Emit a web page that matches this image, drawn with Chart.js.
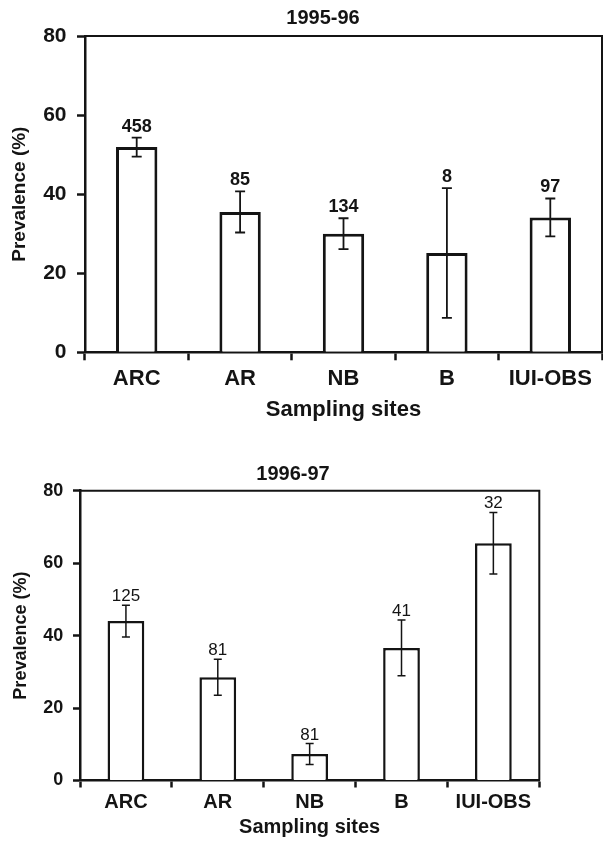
<!DOCTYPE html>
<html>
<head>
<meta charset="utf-8">
<script src="https://cdn.jsdelivr.net/npm/chart.js@4.4.0/dist/chart.umd.min.js"></script>
<style>
  body { margin: 0; background: #fff; }
  canvas { position: absolute; left: 0; }
  #top { top: 0; }
  #bottom { top: 440px; }
</style>
</head>
<body>
<canvas id="top" width="603" height="440"></canvas>
<canvas id="bottom" width="603" height="402"></canvas>
<script>
// sampling sites and prevalence (%) with error half-widths and sample sizes
const sites = ['ARC', 'AR', 'NB', 'B', 'IUI-OBS'];

const prev9596 = [51.9, 35.5, 30.0, 25.1, 34.1];
const err9596 = [2.4, 5.2, 3.9, 16.4, 4.8];
const n9596 = [458, 85, 134, 8, 97];

const prev9697 = [44.0, 28.5, 7.3, 36.6, 65.5];
const err9697 = [4.4, 5.0, 2.9, 7.7, 8.5];
const n9697 = [125, 81, 81, 41, 32];

const yTicks = [0, 20, 40, 60, 80];

const ink = '#141414';
const family = "'Liberation Sans', Arial, sans-serif";
Chart.defaults.font.family = family;
Chart.defaults.color = ink;

function makePanel(id, title, values, errors, counts, s) {
  // error bars, counts, frame and the panel title
  const panel = {
    id: 'panel',
    afterDatasetsDraw(chart) {
      const ctx = chart.ctx;
      const y = chart.scales.y;
      const a = chart.chartArea;
      const meta = chart.getDatasetMeta(0);
      ctx.save();
      ctx.strokeStyle = ink;
      ctx.fillStyle = ink;
      ctx.lineWidth = s.errWidth;
      meta.data.forEach(function (bar, i) {
        const t = y.getPixelForValue(values[i] + errors[i]);
        const b = y.getPixelForValue(values[i] - errors[i]);
        ctx.beginPath();
        ctx.moveTo(bar.x, t); ctx.lineTo(bar.x, b);
        ctx.moveTo(bar.x - s.cap, t); ctx.lineTo(bar.x + s.cap, t);
        ctx.moveTo(bar.x - s.cap, b); ctx.lineTo(bar.x + s.cap, b);
        ctx.stroke();
        ctx.font = s.countFont;
        ctx.textAlign = 'center';
        ctx.textBaseline = 'alphabetic';
        ctx.fillText(String(counts[i]), bar.x, t - s.gap);
      });
      ctx.lineWidth = s.frameWidth;
      ctx.beginPath();
      ctx.moveTo(a.left, a.top);
      ctx.lineTo(a.right, a.top);
      ctx.lineTo(a.right, a.bottom);
      ctx.stroke();
      ctx.font = s.titleFont;
      ctx.textAlign = 'center';
      ctx.textBaseline = 'middle';
      ctx.fillText(title, s.titleX, s.titleY);
      ctx.restore();
    }
  };

  new Chart(document.getElementById(id), {
    type: 'bar',
    data: {
      labels: sites,
      datasets: [{
        data: values,
        backgroundColor: '#fff',
        borderColor: ink,
        borderWidth: s.barBorder,
        categoryPercentage: 1,
        barPercentage: 0.4
      }]
    },
    options: {
      responsive: false,
      animation: false,
      events: [],
      layout: { padding: { top: s.padTop, right: s.padRight, left: 0, bottom: 0 } },
      plugins: { legend: { display: false }, tooltip: { enabled: false }, title: { display: false } },
      scales: {
        x: {
          afterFit: function (scale) { scale.height = s.xHeight; },
          grid: { drawOnChartArea: false, tickColor: ink, tickLength: s.tickLen, tickWidth: 2.5 },
          border: { color: ink, width: 2.5 },
          ticks: { color: ink, font: { size: s.xFont, weight: 'bold' }, padding: s.xPad, maxRotation: 0 },
          title: { display: true, text: 'Sampling sites', color: ink,
                   font: { size: s.xTitleFont, weight: 'bold' }, padding: { top: 0, bottom: s.xTitlePad } }
        },
        y: {
          min: 0,
          max: 80,
          afterFit: function (scale) { scale.width = s.yWidth; },
          afterBuildTicks: function (scale) { scale.ticks = yTicks.map(function (v) { return { value: v }; }); },
          grid: { drawOnChartArea: false, tickColor: ink, tickLength: s.tickLen, tickWidth: 2.5 },
          border: { color: ink, width: 2.5 },
          ticks: { color: ink, font: { size: s.yFont, weight: 'bold' }, padding: s.yPad },
          title: { display: true, text: 'Prevalence (%)', color: ink,
                   font: { size: s.yTitleFont, weight: 'bold' }, padding: { top: s.yTitlePad, bottom: 0 } }
        }
      }
    },
    plugins: [panel]
  });
}

makePanel('top', '1995-96', prev9596, err9596, n9596, {
  padTop: 36, padRight: 1, yWidth: 85, xHeight: 87.7, tickLen: 8,
  yFont: 21, yPad: 10.5, yTitleFont: 19, yTitlePad: 8.6,
  xFont: 22, xPad: 5.5, xTitleFont: 22, xTitlePad: 16.8,
  barBorder: 3, errWidth: 1.8, cap: 5, gap: 6, frameWidth: 2,
  countFont: 'bold 18px ' + family, titleFont: 'bold 20px ' + family, titleX: 323, titleY: 18
});

makePanel('bottom', '1996-97', prev9697, err9697, n9697, {
  padTop: 50.7, padRight: 63.7, yWidth: 80, xHeight: 61.5, tickLen: 7,
  yFont: 18, yPad: 9.7, yTitleFont: 18, yTitlePad: 10.2,
  xFont: 20, xPad: 3, xTitleFont: 20, xTitlePad: 3,
  barBorder: 2.5, errWidth: 1.5, cap: 4, gap: 4, frameWidth: 2,
  countFont: '17px ' + family, titleFont: 'bold 20px ' + family, titleX: 293, titleY: 34
});
</script>
</body>
</html>
